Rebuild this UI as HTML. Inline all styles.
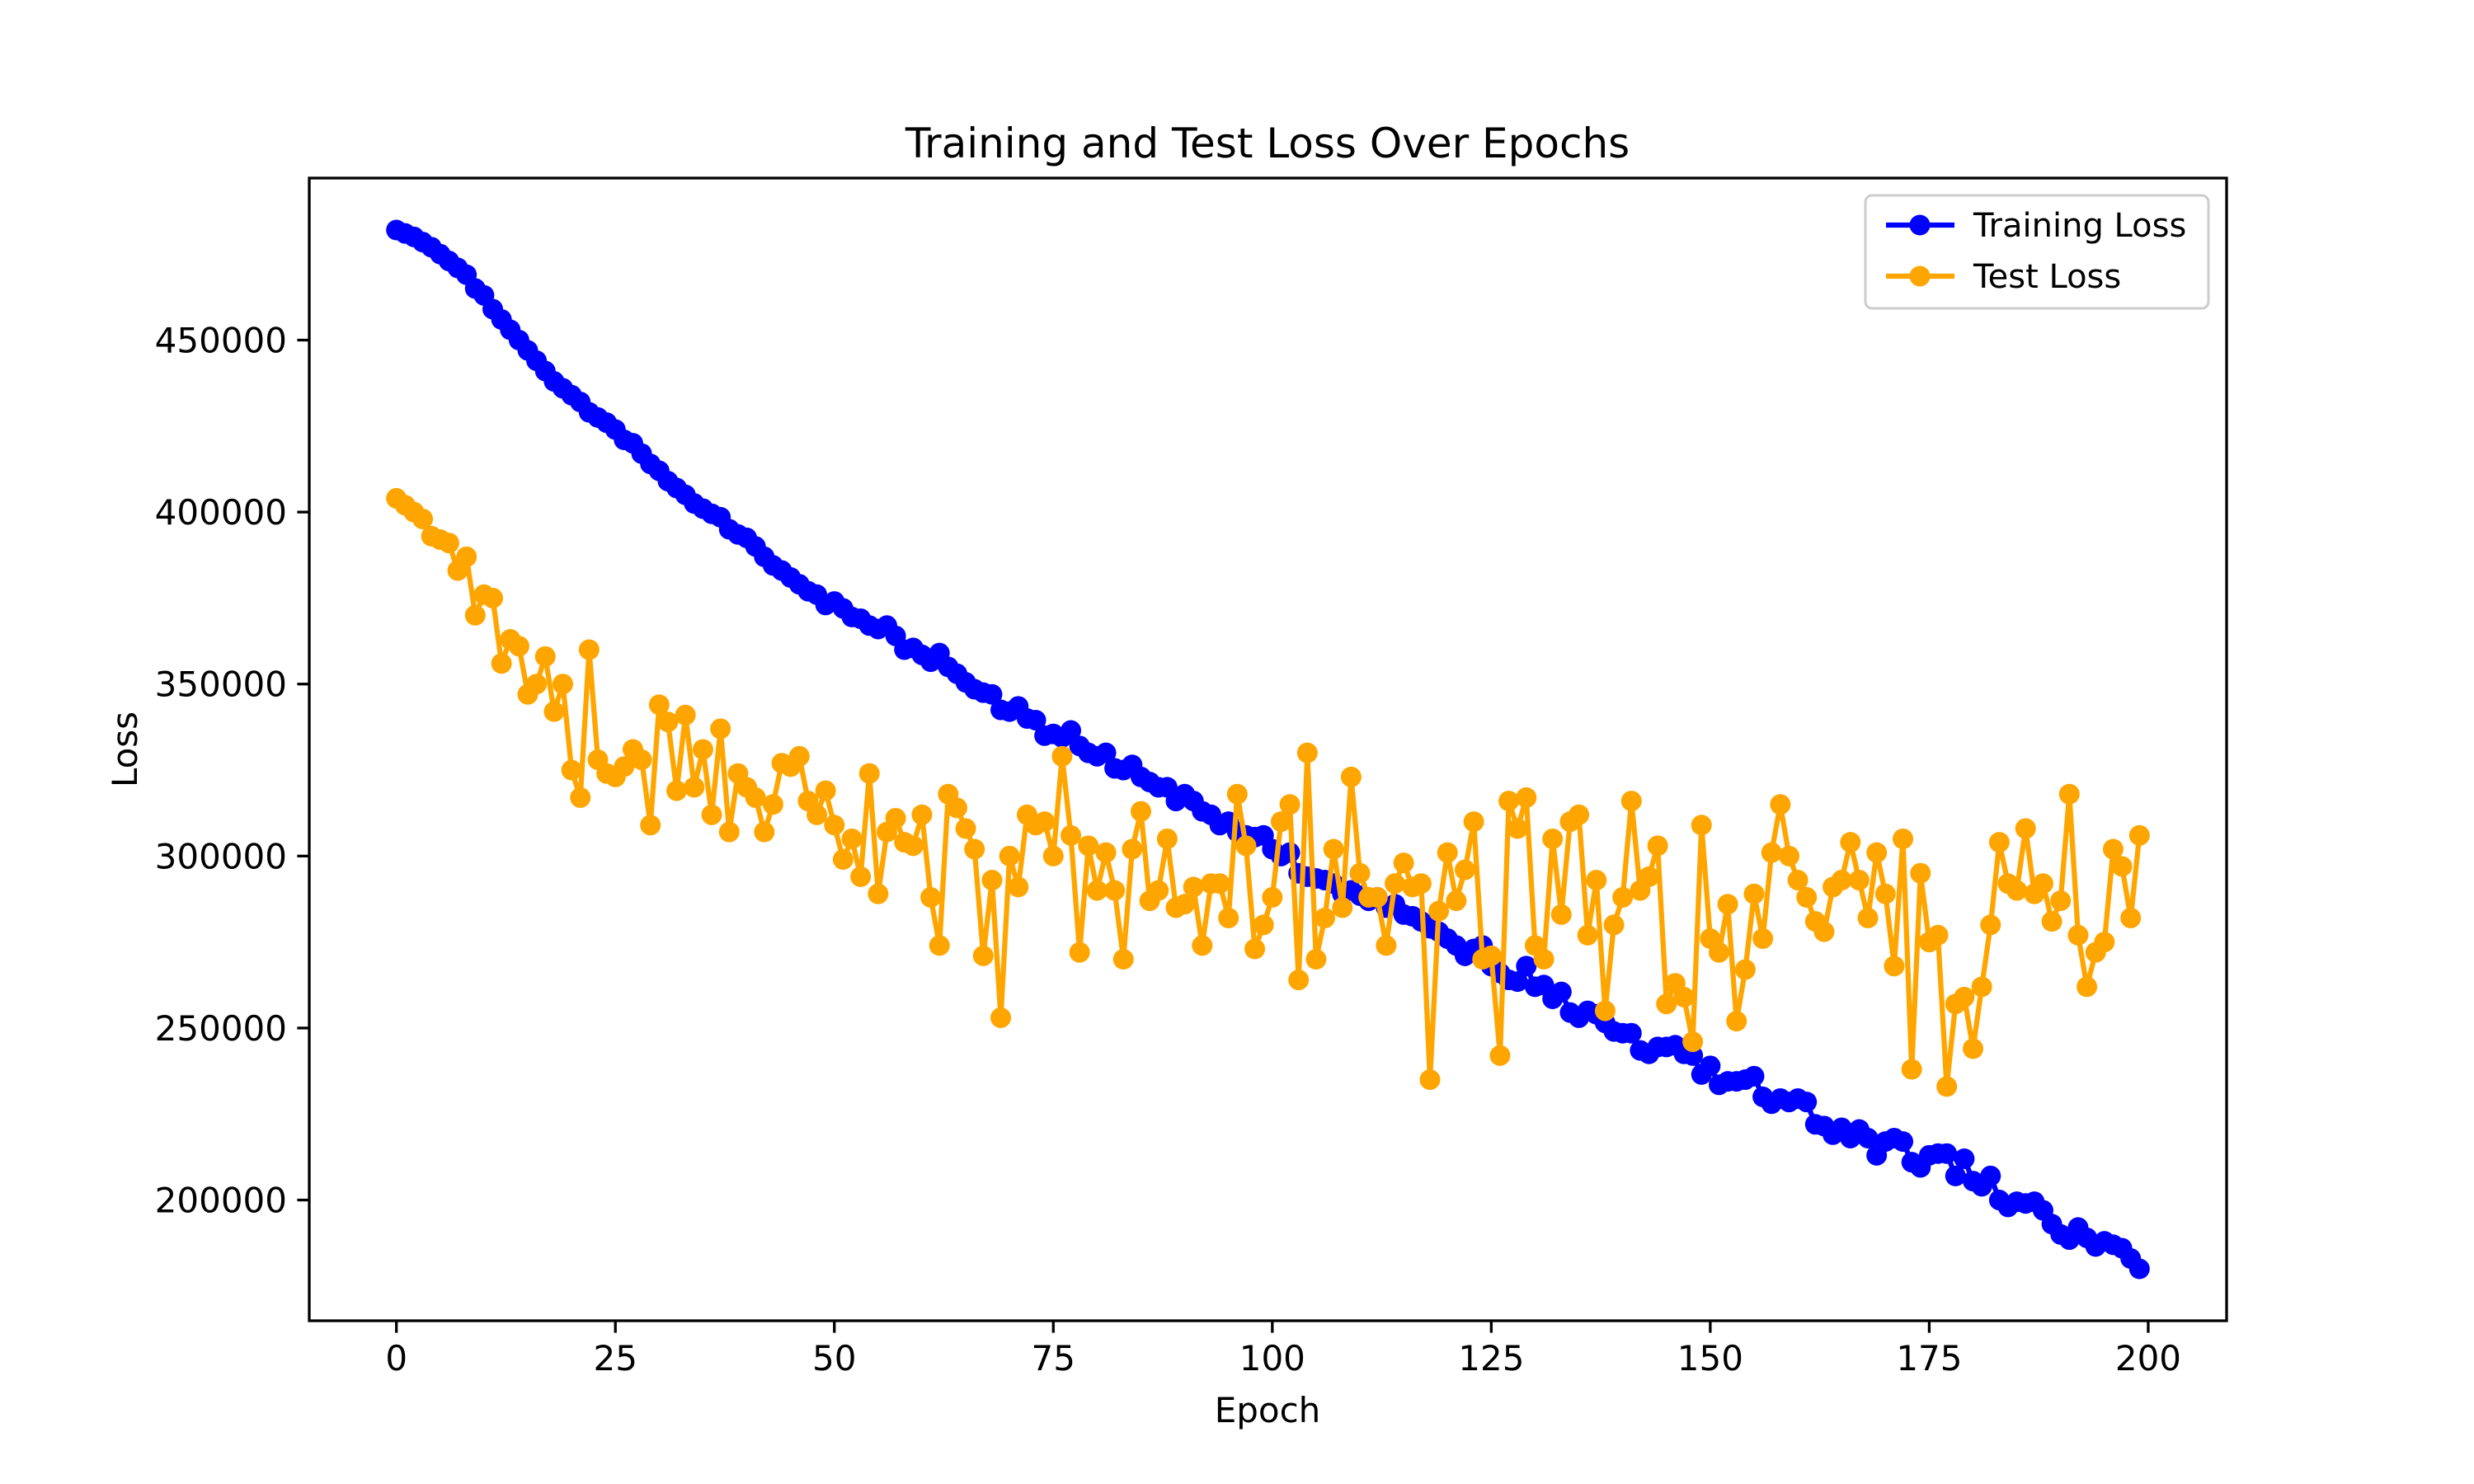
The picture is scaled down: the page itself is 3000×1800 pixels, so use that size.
<!DOCTYPE html>
<html><head><meta charset="utf-8"><style>
html,body{margin:0;padding:0;background:#fff}
svg{display:block;font-family:"DejaVu Sans","Liberation Sans",sans-serif}
</style></head><body>
<svg id="chart" width="3000" height="1800" viewBox="0 0 3000 1800" xmlns="http://www.w3.org/2000/svg">
<rect width="3000" height="1800" fill="#fff"/>
<text x="1537" y="191" font-size="50" text-anchor="middle">Training and Test Loss Over Epochs</text>
<g id="plot"></g>
<g id="xaxis"></g>
<g id="yaxis"></g>
<text x="1537" y="1725" font-size="42" text-anchor="middle">Epoch</text>
<text transform="translate(166,909) rotate(-90)" font-size="42" text-anchor="middle">Loss</text>
<rect x="375" y="216" width="2325" height="1386" fill="none" stroke="#000" stroke-width="3.3"/>
<g>
<rect x="2262" y="237" width="416" height="137" rx="8" fill="#fff" fill-opacity="0.8" stroke="#ccc" stroke-width="3"/>
<g>
<line x1="2287" y1="273" x2="2370" y2="273" stroke="blue" stroke-width="6.25"/>
<circle cx="2328" cy="273" r="12.5" fill="blue"/>
<text x="2393" y="287" font-size="40">Training Loss</text></g>
<g>
<line x1="2287" y1="335" x2="2370" y2="335" stroke="orange" stroke-width="6.25"/>
<circle cx="2328" cy="335" r="12.5" fill="orange"/>
<text x="2393" y="349" font-size="40">Test Loss</text></g>
</g>
</svg>
<script>
const trainLoss=[482000,481000,480000,478500,477000,475000,473000,471000,469000,465000,
463000,459000,456000,453000,450000,447000,444000,441000,438000,436000,
434000,432000,429000,427500,426000,424000,421000,420000,417000,414000,
412000,409000,407000,405000,402500,401000,399500,398500,395000,393500,
392500,390000,387000,384500,383000,381000,379000,377000,376000,373000,
374000,372000,369500,369000,367000,366000,367000,364000,360000,360500,
358500,356500,359000,355000,353000,350500,348500,347500,347000,342500,
342000,343500,340000,339500,335000,335500,334500,336500,332000,330000,
329000,330000,325500,325000,326500,323000,321500,320000,320000,316000,
318000,316000,313000,312000,309000,310000,307000,306000,305500,306000,
302000,300000,301000,295000,294000,293500,293000,292000,289000,290000,
288500,287000,288000,285000,286000,283000,282500,281000,279000,278000,
276000,274000,271000,273000,274000,268000,266000,264000,263500,268000,
262000,262500,258500,260500,254500,253000,255000,254000,251500,249000,
248500,248500,243500,242500,244500,244500,245000,242500,242000,236500,
239000,233500,234500,234500,235000,236000,230000,228000,229500,228500,
229500,228500,222000,221500,219000,221000,218000,220500,218000,213000,
217000,218000,217000,211000,209500,213000,213500,213500,207000,212000,
205500,204000,207000,200000,198000,199500,199000,199500,197000,193000,
190000,188500,192000,189000,186500,188000,187000,186000,183000,180000];
const testLoss=[404000,402000,400000,398000,393000,392000,391000,383000,387000,370000,
376000,375000,356000,363000,361000,347000,350000,358000,342000,350000,
325000,317000,360000,328000,324000,323000,326000,331000,328000,309000,
344000,339000,319000,341000,320000,331000,312000,337000,307000,324000,
320000,317000,307000,315000,327000,326000,329000,316000,312000,319000,
309000,299000,305000,294000,324000,289000,307000,311000,304000,303000,
312000,288000,274000,318000,314000,308000,302000,271000,293000,253000,
300000,291000,312000,309000,310000,300000,329000,306000,272000,303000,
290000,301000,290000,270000,302000,313000,287000,290000,305000,285000,
286000,291000,274000,292000,292000,282000,318000,303000,273000,280000,
288000,310000,315000,264000,330000,270000,282000,302000,285000,323000,
295000,288000,288000,274000,292000,298000,291000,292000,235000,284000,
301000,287000,296000,310000,270000,271000,242000,316000,308000,317000,
274000,270000,305000,283000,310000,312000,277000,293000,255000,280000,
288000,316000,290000,294000,303000,257000,263000,259000,246000,309000,
276000,272000,286000,252000,267000,289000,276000,301000,315000,300000,
293000,288000,281000,278000,291000,293000,304000,293000,282000,301000,
289000,268000,305000,238000,295000,275000,277000,233000,257000,259000,
244000,262000,280000,304000,292000,290000,308000,289000,292000,281000,
287000,318000,277000,262000,272000,275000,302000,297000,282000,306000];
const xTicks=[0,25,50,75,100,125,150,175,200];
const yTicks=[200000,250000,300000,350000,400000,450000];

const NS="http://www.w3.org/2000/svg";
const L=375,R=2700,T=216,B=1602;
const xmin=-9.95,xmax=208.95;
const allV=trainLoss.concat(testLoss);
const dmin=Math.min(...allV),dmax=Math.max(...allV),pad=(dmax-dmin)*0.05;
const ymin=dmin-pad,ymax=dmax+pad;
const xs=v=>L+(v-xmin)/(xmax-xmin)*(R-L);
const ys=v=>B-(v-ymin)/(ymax-ymin)*(B-T);
function mk(tag,attrs,parent){const e=document.createElementNS(NS,tag);for(const k in attrs)e.setAttribute(k,attrs[k]);parent.appendChild(e);return e;}
const plot=document.getElementById('plot');
function series(vals,color,name){
  const g=mk('g',{},plot);
  
  
  const pts=vals.map((v,i)=>xs(i).toFixed(1)+','+ys(v).toFixed(1)).join(' ');
  const pl=mk('polyline',{points:pts,fill:'none',stroke:color,'stroke-width':6.25,'stroke-linejoin':'round'},g);
  
  
  vals.forEach((v,i)=>{
    const c=mk('circle',{cx:xs(i),cy:ys(v),r:12.5,fill:color},g);
    
    
  });
}
series(trainLoss,'blue','training-loss');
series(testLoss,'orange','test-loss');
const xa=document.getElementById('xaxis');
xTicks.forEach(t=>{
  const x=xs(t);
  const ln=mk('line',{x1:x,x2:x,y1:B,y2:B+14.6,stroke:'#000','stroke-width':3.3},xa);
  
  
  const tx=mk('text',{x:x,y:B+60,'font-size':42,'text-anchor':'middle'},xa);
  tx.textContent=t;
  
  
});
const ya=document.getElementById('yaxis');
yTicks.forEach(t=>{
  const y=ys(t);
  const ln=mk('line',{x1:L-14.6,x2:L,y1:y,y2:y,stroke:'#000','stroke-width':3.3},ya);
  
  
  const tx=mk('text',{x:L-27,y:y+15,'font-size':42,'text-anchor':'end'},ya);
  tx.textContent=t;
  
  
});
</script>
</body></html>
